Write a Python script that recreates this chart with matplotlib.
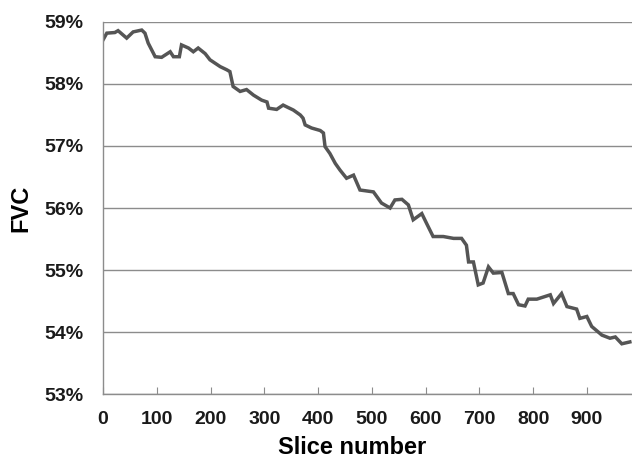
import matplotlib.pyplot as plt
from matplotlib.ticker import FuncFormatter

# values (slice, FVC %)
slices = [0, 7, 22, 28, 44, 56, 72, 78, 84, 97, 109, 125, 131, 142, 146, 159,
          168, 177, 190, 199, 218, 230, 236, 242, 255, 267, 280, 295, 305, 308,
          323, 335, 342, 354, 367, 372, 376, 388, 404, 410, 413, 422, 432, 441,
          453, 466, 478, 503, 518, 534, 543, 556, 568, 577, 593, 602, 614, 633,
          652, 667, 676, 680, 689, 698, 707, 717, 726, 742, 754, 763, 773, 785,
          791, 807, 832, 838, 853, 863, 881, 887, 900, 909, 928, 943, 953, 965,
          980]
fvc = [58.71, 58.82, 58.83, 58.86, 58.74, 58.84, 58.87, 58.82, 58.66, 58.44,
       58.43, 58.52, 58.44, 58.44, 58.63, 58.58, 58.52, 58.58, 58.49, 58.39,
       58.28, 58.23, 58.20, 57.96, 57.88, 57.91, 57.82, 57.74, 57.71, 57.61,
       57.59, 57.66, 57.63, 57.58, 57.50, 57.45, 57.34, 57.29, 57.25, 57.21,
       56.99, 56.88, 56.72, 56.61, 56.48, 56.53, 56.29, 56.26, 56.08, 56.00,
       56.13, 56.14, 56.05, 55.81, 55.91, 55.75, 55.54, 55.54, 55.51, 55.51,
       55.40, 55.13, 55.13, 54.76, 54.79, 55.05, 54.95, 54.96, 54.62, 54.62,
       54.44, 54.42, 54.53, 54.53, 54.60, 54.46, 54.62, 54.41, 54.37, 54.22,
       54.25, 54.09, 53.95, 53.90, 53.92, 53.81, 53.84]
yticks = [53, 54, 55, 56, 57, 58, 59]
xticks = [0, 100, 200, 300, 400, 500, 600, 700, 800, 900]

plt.rcParams['font.family'] = ['Liberation Sans', 'DejaVu Sans']

fig = plt.figure(figsize=(6.32, 4.63), dpi=100)
ax = fig.add_axes([0.163, 0.149, 0.837, 0.8035])

ax.plot(slices, fvc, color='#555555', lw=2.5, solid_joinstyle='miter')

ax.set_xlim(0, 984)
ax.set_ylim(53, 59)
ax.set_yticks(yticks)
ax.set_xticks(xticks)
ax.yaxis.set_major_formatter(FuncFormatter(lambda v, p: '%d%%' % v))
ax.grid(axis='y', color='#8c8c8c', lw=1.0)
ax.set_axisbelow(True)

for s in ['top', 'right']:
    ax.spines[s].set_visible(False)
for s in ['left', 'bottom']:
    ax.spines[s].set_color('#8c8c8c')
    ax.spines[s].set_linewidth(1.0)

ax.tick_params(axis='y', length=0, pad=14, labelsize=14, labelcolor='#1a1a1a')
ax.tick_params(axis='x', direction='in', length=5, color='#8c8c8c', pad=12,
               labelsize=14, labelcolor='#1a1a1a')
for lab in ax.get_xticklabels() + ax.get_yticklabels():
    lab.set_fontweight('bold')

ax.set_xlabel('Slice number', fontsize=17, fontweight='bold', labelpad=6)
ax.xaxis.label.set_x(0.471)
ax.set_ylabel('FVC', fontsize=17, fontweight='bold', labelpad=9)

fig.savefig('out.png', dpi=100)
